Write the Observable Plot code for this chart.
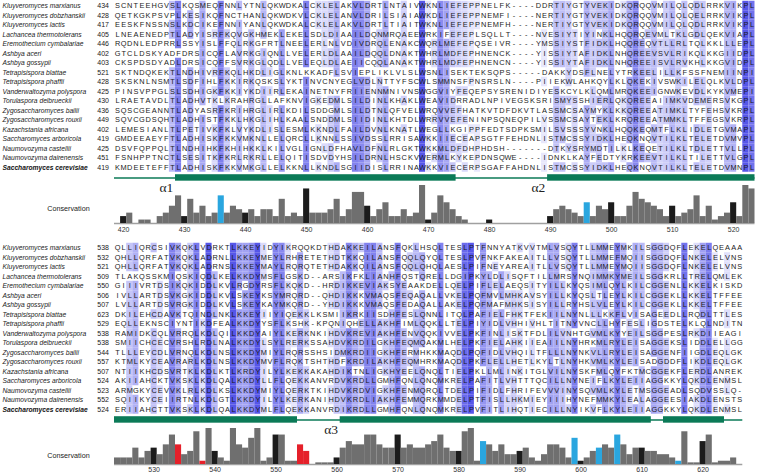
<!DOCTYPE html>
<html>
<head>
<meta charset="utf-8">
<script src="https://cdn.jsdelivr.net/npm/d3@7"></script>
<script src="https://cdn.jsdelivr.net/npm/@observablehq/plot@0.6"></script>
<style>
  body { margin: 0; background: #fff; }
  #fig { position: relative; width: 757px; height: 473px; overflow: hidden; background: #fff; }
  #warn { position: absolute; left: 200px; top: 230px; color: red; font: 12px sans-serif; z-index: 10; }
</style>
</head>
<body>
<div id="fig"></div>
<script>
// ---------------- DATA ----------------
const species = [
  "Kluyveromyces marxianus", "Kluyveromyces dobzhanskii", "Kluyveromyces lactis",
  "Lachancea thermotolerans", "Eremothecium cymbalariae", "Ashbya aceri", "Ashbya gossypii",
  "Tetrapisispora blattae", "Tetrapisispora phaffii", "Vanderwaltozyma polyspora",
  "Torulaspora delbrueckii", "Zygosaccharomyces bailii", "Zygosaccharomyces rouxii",
  "Kazachstania africana", "Saccharomyces arboricola", "Naumovozyma castellii",
  "Naumovozyma dairenensis", "Saccharomyces cerevisiae"
];
const topStarts = [434, 428, 417, 405, 446, 402, 403, 521, 428, 425, 430, 436, 449, 402, 419, 425, 451, 419];
const bottomStarts = [538, 532, 521, 509, 550, 506, 507, 623, 529, 538, 538, 544, 557, 507, 524, 523, 552, 524];

const topSeqs = [
  "SCNTEEHGVSLKQSMEQFNNLYTNLQKWDKALCKLELAKVLDRTLNTAIVWKNLIEFEPPNELFK----DDRTIYGTYVEKIDKQRQQVMILQLQDLRRKVIKPL",
  "QETKGKPSVPLKESIKQFNCTHANLQKWDKVLCKLELANVLDRILSIAIAWKDLIEFEPPNEMFI----NERTIYGTYVEKIDKQRQQVMILQLQELRRKVIKPL",
  "EESKFNSSNSLKDCIKEFNNIYANLQKWDKALCKLELAKVLDRTLTIAITWKNLIEFEPPNEMFH----NERTIYGTYVEKIDKQRQQVMILQLQDLRRKVIKPL",
  "LNEAENEDPTLADYISRFKQVGKHMEKLEKELSDLDIAAILDQNMRQAEEWRKIFEFEPLSQLLT----NVESIYTIYINKLHQQRQEVMLTKLGDLQEKVIAPL",
  "RQDNLEDPRRLSSYISLFFQLRKGFRTLNEELERLNLVDIVDRQLENAKCWQRLMEFEPQSEIVR----YMSSIYSTFIDKLHQQREQVTLLRLTQLKKLLLEPL",
  "GTCLDSKYADFDRSICQFLAVRKGIQNLLVELERLDLAAILDQQLDNAKTWHRLMDFEPHNENCK----YISSIYTAFIDKLNHQREEVSVLRIKQLKKGIIDPL",
  "CKSPDSDYADLDRSICQFFSVRKGLQDLLVELEQLDLAEIICQQLANAKTWHRLMDFEPHNENCN----YISSIYTAFIDKLNHQREEISVLRVKHLKKGVIDPL",
  "SKTNDQKEKTLNDHIVRFKQLHKDLIGLKNLKKADFLSVIEPLIKLVLSLWSNLISEKTEKSQPS-----DAKKYDSFLNELYTRKEELILLKFSSFNEMIINPI",
  "SKSKNLNSMTLSDFIHLFKKIRKQSKSLYKTINVCNYEGLVDLNTTYFSCWLSMMNSFPNSRSLN----PIIEKWLAHKQYLKLQKEKIVSWKILELQLKVLDPL",
  "PINSVPPGLSLSDHIGKFKKIYKDIIRLEKAINETNYFRIIENNMNIVNSWGGVIYFEQEPSYSRENIDIYESKCYLKLQMLMRQKEEIGNWKEVDLKYKVMEPI",
  "LRAETAVDLTLADHVTKLKRAHRGLLAFKNVIGKEDMLSILDINLKHAKLWEAVIDRRADLNPIVEGSKSRISMYSSHIERLQKQREEAIIMKVDEMERSVKGPL",
  "SQSCGEANNTLADYASRFKRIHRGLIRLKDILSDDGMLSILDTNLQFVELWRQVVEFHATKVTDFDKVTLASSMCSAYMYKLKKQREEATIMKLTYFEHSVKRPL",
  "SQVCGDSQHTLADHISTFKKLHKGLIHLKAALSNDDMLSIIDINLKHTDLWRRVVEFENINPSQNEQPILVSSMCSAYTEKLKRQREEATMMKLTFFEGSVKRPL",
  "LEMESIANLTLPETIVKFKLVYKDLISLESMLKKNDLFAILDVNLKNATLWEGLLKGIPPFEDTSDPKSMILSVSSSYVNKLHQQKEQMTFLKLIDLETGVMAPL",
  "GMDEEAEYFTLADHISKFKKVMKNLLELQRCLLKNNLSSIVDSSLRRISAWKKIIECEAPSGTFFEHDNLISTMCSSYIDKLHEQKNQVTILKLTELETDVMVPL",
  "DSVFQPPQLTLNDHIHKFKHIHKKLKILVGLIGNLDFHAVLDFNLRLGKTWKKMLDFDHPHDSH-------DTKYSRYMDTILKLKEQETILKLTDLETTVLLPL",
  "FSNHPPTNCTLSESITKFKRLRKRLLELQITISDVDYHSILDRNLHSCKVWERMLKYKEPDNSQWE----IDNKLKAYFEDTYKRKEEVTILKLTILETTVLGPL",
  "KMDEETEFFTLADHISKFKKVMKGLLELKKNLLKNDLSGIIDISLRRINAWKKVIECERPSGAFFAHDNLISTMCSSYIDKLHEQKNQVTILKLTELETDVMNPL"
];
const bottomSeqs = [
  "QLLIQRCSIVKQKLVDRKTLKKEYIDYIKRQQKDTHDAKKEILANSFQKLHSQLTESLPTFNNYATKVVTMLVSQYTLLMMEYMKILSGGDQFLEKELQEAAA",
  "QHLLQRFATVKQKLADRNLLKKEYMEYLRHRETETHDTKKQILANSFQQLQYQLTESLPVFNKFAKEAITLLVSQYTLLMMEFMQIISGGDQFLNKELELVNS",
  "QHLLQRFATVKQKLADRNSLKKEYMAYLRQRQTETHDAKKQILANSFQQLQHQLAESLPIFNEYAREAITLLVSQYTLLMMEYMQIISGGDQFLNKELELVNS",
  "TLAKQSSKMIQSKIQDLKELKKDYMSFLGSKD--ARSIKFKLIANHFQSTQRELLDGIPKYLDLISQFTILLMRSYNQIMMKYMEILSGGKRLLTRELQMLEK",
  "GIIIVRTDSIKQKIDDLKVLRGDYRSFLKQKD--HRDIKKEVIAKSYEAAKDELLQELPIFLELAEQSITYILLKYQSIMLQYLKILCGGENLLKKELKISKD",
  "IVLLARTDSVKGKIDDLKVLSKEYKSYMRQRD--QHDIKKKVMAQSFEQAQALLVKELPQFMVLMHKAVSYILLKYQSLTLEYLKILCGGEKLLKKELTFFEE",
  "LVLLARTDSVRGKIDDLKVLSKEYKAYMKQRD--YHDIKKKVMAQSFEDAQALLAKELPQFMAFMHKSISYILLRYHSLVLEYLKILCGGEKLLKKELTFFEE",
  "DKILEHCDAVKTQINDLNKLKKEYIIYIQEKKLKSMIIKRKIISDHFESLQNNLITQLPAFIELFHKTFEKIILNYNLLLKKFLVISAGEEDLLRQDLTTLES",
  "EQLLEKNSCIYNTIKDFEALKKDYYSFLKSHK-KPQNIQHELLAKHFIMLQQKLLTELPIYIDLVHHIVHLTITNYVNCLLHYFESLIGDSTELKLQLNDITN",
  "RAMIDKCQLVRRQLKDLQILKKDYAIYLKERKNKIHDVKREVIAKHFENVQQKIVVELPKFINLISKTFDLILVNHTGVMLKYYEILSGGPESLRKDIIEAGI",
  "SMIICHCECVRSHLRDLNALKKDYLSYLRERKSSAHDVKRDILGKHFEQMQAKMLHELPKFIELAHKIIEAIILNYHRKMLRYLEISAGGEKSLIDDLELLGG",
  "TLLLEYCDLVRNQLKDLNSLKKDYMIYLRQRSSHSIDMKRDIIGKHFERMHKKMAQDLPQFIDLVHQILTFLLLNYNKVLLRYLEISAGGENFIIGDLEQLGK",
  "KTMLKYCEAVRARLKDLNSLKKDYMVFLRQKTSHTHDFKRDILAKHFEQMHRKMAQDLPKFLELLHETLKYLTLNYHKVMLKYLEISADGDDFLIKDLEQLGK",
  "NTIIKHCDSVRTKLKDLKTLKRDYILYLKEKKAKAHDIKTNLIGKHYEELQNQLTIELPKLLMLINKITGLVILNYSKFMLQYFKTMCGGEKFLERDLANREK",
  "AKIIAHCKTVKSKLKDLQALKKDYLLFLQEKKANVRDVKRDLLGMHFQNLQNQMKRELPAFITLVHTTTQCILLNYNEIFLKYLEIIAGGKKYLQKDLENMSL",
  "ARMGKYCEVVKLRLKDLKSLKKDYMIYLQERKTKIHDVKRDVIGKHFENMQRQLTDELPIFIDLFHRIFEVVVINYSQVMLKYLETMSGGEADLSQDVSSLQ-",
  "SQIIKYCEIIRTNLKDLGTLKKDYILYLKERKANIHDVKRDLIAKHFEMMQRKMMDELPTFISLLHKMIEYIIIHYNEFMMKYLEALAGGEESIAKDLENSTS",
  "ERIIAHCTTVKSKLKDLQALKKDYMLFLQEKKANVRDIKRDLLGMHFQNLQNQMKRELPVFITLIHQTIECILLNYIKVFLKYLEIIAGGKKYLQKDLENMSL"
];

// S. cerevisiae numbering of the first alignment column of each block
const topFirstPos = 419;
const bottomFirstPos = 524;

// Conservation scores (0-11), one per alignment column
const topConservation = [
  0, 2, 3, 0, 1, 1, 0, 2, 3, 5,   8, 2, 7, 3, 5, 2, 3, 8, 3, 5,
  4, 3, 4, 2, 4, 4, 2, 7, 2, 3,   2, 10, 3, 3, 3, 4, 7, 2, 4, 9,
  9, 5, 2, 4, 6, 2, 2, 4, 2, 3,   11, 1, 3, 8, 6, 4, 2, 1, 0, 0,
  0, 1, 0, 0, 0, 0, 0, 0, 0, 0,   0, 2, 4, 5, 4, 3, 2, 6, 2, 5,
  4, 6, 2, 2, 5, 9, 7, 6, 5, 4,   2, 5, 2, 3, 4, 8, 2, 5, 1, 2,
  3, 6, 2, 11, 10
];
const bottomConservation = [
  2, 2, 2, 5, 2, 4, 5, 3, 6, 9,   6, 3, 4, 10, 1, 11, 4, 2, 1, 11,
  6, 5, 8, 11, 1, 2, 9, 9, 1, 1,   6, 4, 0, 0.5, 0.5, 0.5, 2, 5, 7, 6,
  6, 9, 9, 6, 5, 5, 9, 5, 6, 5,   5, 6, 7, 9, 5, 4, 4, 10, 11, 1,
  7, 6, 4, 6, 3, 3, 4, 5, 2, 1,   3, 6, 6, 5, 2, 8, 1, 2, 4, 5,
  6, 5, 9, 6, 3, 5, 5, 4, 4, 3,   3, 2, 1, 10, 0.5, 0.5, 7, 9, 0.5, 1,
  1, 2, 0
];
const blueHighlights = [436, 496, 584, 599, 603, 606, 616];
const redHighlights = [534, 538, 554, 555];

const topTicks = [420, 430, 440, 450, 460, 470, 480, 490, 500, 510, 520];
const bottomTicks = [530, 540, 550, 560, 570, 580, 590, 600, 610, 620];

// secondary structure (S. cerevisiae numbering)
const coilSpans = [{start: 419, end: 523}, {start: 524, end: 626}];
const helixSpans = [
  {start: 429, end: 474}, {start: 490, end: 523},
  {start: 524, end: 553}, {start: 561, end: 611}, {start: 614, end: 623}
];
const helixLabels = [{label: "α1", pos: 427}, {label: "α2", pos: 488}, {label: "α3", pos: 559}];

// ---------------- STYLE ----------------
const FONT = "'Liberation Sans', Arial, Helvetica, sans-serif";
const SERIF = "'Liberation Serif', 'Times New Roman', serif";
const GREEN = "#0b7a57";
const BLUE_DARK = "#5656e8";
const BAR = {gray: "#6f6f6f", black: "#1c1c1c", blue: "#2aa6df", red: "#e5202a"};
const ROW_H = 9.5, ROW0 = 5.5, ALIGN_H = 198;
const HELIX_ROW = 18.1, LABEL_ROW = 19.15;

const fig = document.getElementById("fig");

// length check (only shows if something is wrong)
const bad = [];
topSeqs.forEach((s, i) => { if (s.length !== 105) bad.push("T" + i + ":" + s.length); });
bottomSeqs.forEach((s, i) => { if (s.length !== 103) bad.push("B" + i + ":" + s.length); });
if (bad.length) { const w = document.createElement("div"); w.id = "warn"; w.textContent = bad.join(" "); fig.appendChild(w); }

const groups = ["ILVM", "FYW", "KR", "DE", "ST", "NQ"];
const groupOf = c => { const g = groups.find(g => g.includes(c)); return g || c; };
const shade = d3.interpolateRgb("#ffffff", BLUE_DARK);

// identity / similarity of each residue to its column, shaded by column conservation
function shadeCells(seqs, first, cons) {
  const n = seqs.length, L = d3.max(seqs, s => s.length);
  const cells = [];
  for (let c = 0; c < L; c++) {
    const col = seqs.map(s => s[c] || " ");
    const res = col.filter(ch => ch !== "-" && ch !== " ");
    const counts = d3.rollup(res, v => v.length, d => d);
    const gcounts = d3.rollup(res, v => v.length, d => groupOf(d));
    const maxC = d3.max(counts.values()) || 0;
    const maxG = d3.max(gcounts.values()) || 0;
    const modalGroup = [...gcounts].find(([, v]) => v === maxG)?.[0];
    const k = 0.3 + 0.7 * (cons[c] || 0) / 11;
    col.forEach((ch, r) => {
      let score = 0;
      if (ch !== "-" && ch !== " ") {
        const isModal = counts.get(ch) === maxC;
        const inGroup = groupOf(ch) === modalGroup;
        if (isModal) score = Math.max(maxC / n, inGroup ? 0.85 * maxG / n : 0);
        else if (inGroup) score = 0.8 * maxG / n;
      }
      const t = score > 0.4 ? score * k : 0;
      cells.push({row: r, pos: first + c, ch, fill: t > 0.12 ? shade(t) : null});
    });
  }
  return cells;
}

function alignmentBlock(seqs, starts, first, cons, top) {
  const cells = shadeCells(seqs, first, cons);
  const rows = species.map((name, i) => ({row: i, name, start: starts[i]}));
  const last = first + 104;
  const inBlock = d => d.start >= first && d.end <= first + 110;
  const svg = Plot.plot({
    width: 757, height: ALIGN_H,
    marginLeft: 114, marginRight: 2.5, marginTop: 0, marginBottom: 0,
    style: {background: "none", fontFamily: FONT},
    x: {domain: [first - 0.5, first + 104.5], axis: null},
    y: {domain: [-ROW0 / ROW_H, (ALIGN_H - ROW0) / ROW_H], range: [0, ALIGN_H], axis: null},
    color: {type: "identity"},
    marks: [
      Plot.rect(cells.filter(d => d.fill), {
        x1: d => d.pos - 0.5, x2: d => d.pos + 0.5,
        y1: d => d.row - 0.5, y2: d => d.row + 0.5, fill: "fill"
      }),
      Plot.text(cells, {x: "pos", y: "row", text: "ch", fontSize: 7.4, fill: "#1b1b1b"}),
      Plot.text(rows.filter(d => d.row < 17), {
        y: "row", text: "name", frameAnchor: "left", dx: -112, textAnchor: "start",
        fontStyle: "italic", fontSize: 6.7, fill: "#222"
      }),
      Plot.text(rows.filter(d => d.row === 17), {
        y: "row", text: "name", frameAnchor: "left", dx: -112, textAnchor: "start",
        fontStyle: "italic", fontWeight: "bold", fontSize: 6.7, fill: "#111"
      }),
      Plot.text(rows, {
        y: "row", text: d => String(d.start), frameAnchor: "left", dx: -5.5,
        textAnchor: "end", fontSize: 7, fill: "#222"
      }),
      Plot.ruleY(coilSpans.filter(inBlock), {
        x1: d => d.start - 0.5, x2: d => d.end + 0.5, y: () => HELIX_ROW,
        stroke: GREEN, strokeWidth: 1.6
      }),
      Plot.rect(helixSpans.filter(inBlock), {
        x1: d => d.start - 0.5, x2: d => d.end + 0.5,
        y1: () => HELIX_ROW - 0.34, y2: () => HELIX_ROW + 0.34, fill: GREEN
      }),
      Plot.text(helixLabels.filter(d => d.pos >= first && d.pos <= last), {
        x: "pos", y: () => LABEL_ROW, text: "label",
        fontFamily: SERIF, fontSize: 13.5, fill: "#222"
      })
    ]
  });
  svg.style.position = "absolute"; svg.style.left = "0px"; svg.style.top = top + "px";
  fig.appendChild(svg);
}

function barColour(pos) {
  if (blueHighlights.includes(pos)) return BAR.blue;
  if (redHighlights.includes(pos)) return BAR.red;
  if (pos % 10 === 0) return BAR.black;
  return BAR.gray;
}

function conservationBlock(values, first, ticks, baseline, plotH, labelDy, tickPad) {
  const data = values.map((v, i) => ({pos: first + i, value: v}));
  const mt = 2, mb = 11;
  const svg = Plot.plot({
    width: 757, height: plotH + mt + mb,
    marginLeft: 114, marginRight: 2.5, marginTop: mt, marginBottom: mb,
    style: {background: "none", fontFamily: FONT, fontSize: "7px", color: "#333"},
    x: {domain: [first - 0.5, first + 104.5], ticks, tickSize: 0, tickPadding: tickPad, label: null, tickFormat: d => String(d)},
    y: {domain: [0, 11], axis: null},
    color: {type: "identity"},
    marks: [
      Plot.ruleY([0], {x1: () => first - 0.5, x2: () => first + values.length - 0.5, stroke: "#a0a0a0", strokeWidth: 1.5}),
      Plot.rect(data.filter(d => d.value > 0), {
        x1: d => d.pos - 0.5, x2: d => d.pos + 0.5, y1: () => 0, y2: "value",
        fill: d => barColour(d.pos)
      }),
      Plot.text(["Conservation"], {frameAnchor: "left", dx: -46, dy: labelDy, textAnchor: "middle", fontSize: 7.2, fill: "#222"})
    ]
  });
  svg.style.position = "absolute"; svg.style.left = "0px"; svg.style.top = (baseline - plotH - mt) + "px";
  fig.appendChild(svg);
}

alignmentBlock(topSeqs, topStarts, topFirstPos, topConservation, 0);
conservationBlock(topConservation, topFirstPos, topTicks, 223, 38, 4, 3.5);
alignmentBlock(bottomSeqs, bottomStarts, bottomFirstPos, bottomConservation, 241.5);
conservationBlock(bottomConservation, bottomFirstPos, bottomTicks, 463.5, 36, 9.5, 3);
</script>
</body>
</html>
